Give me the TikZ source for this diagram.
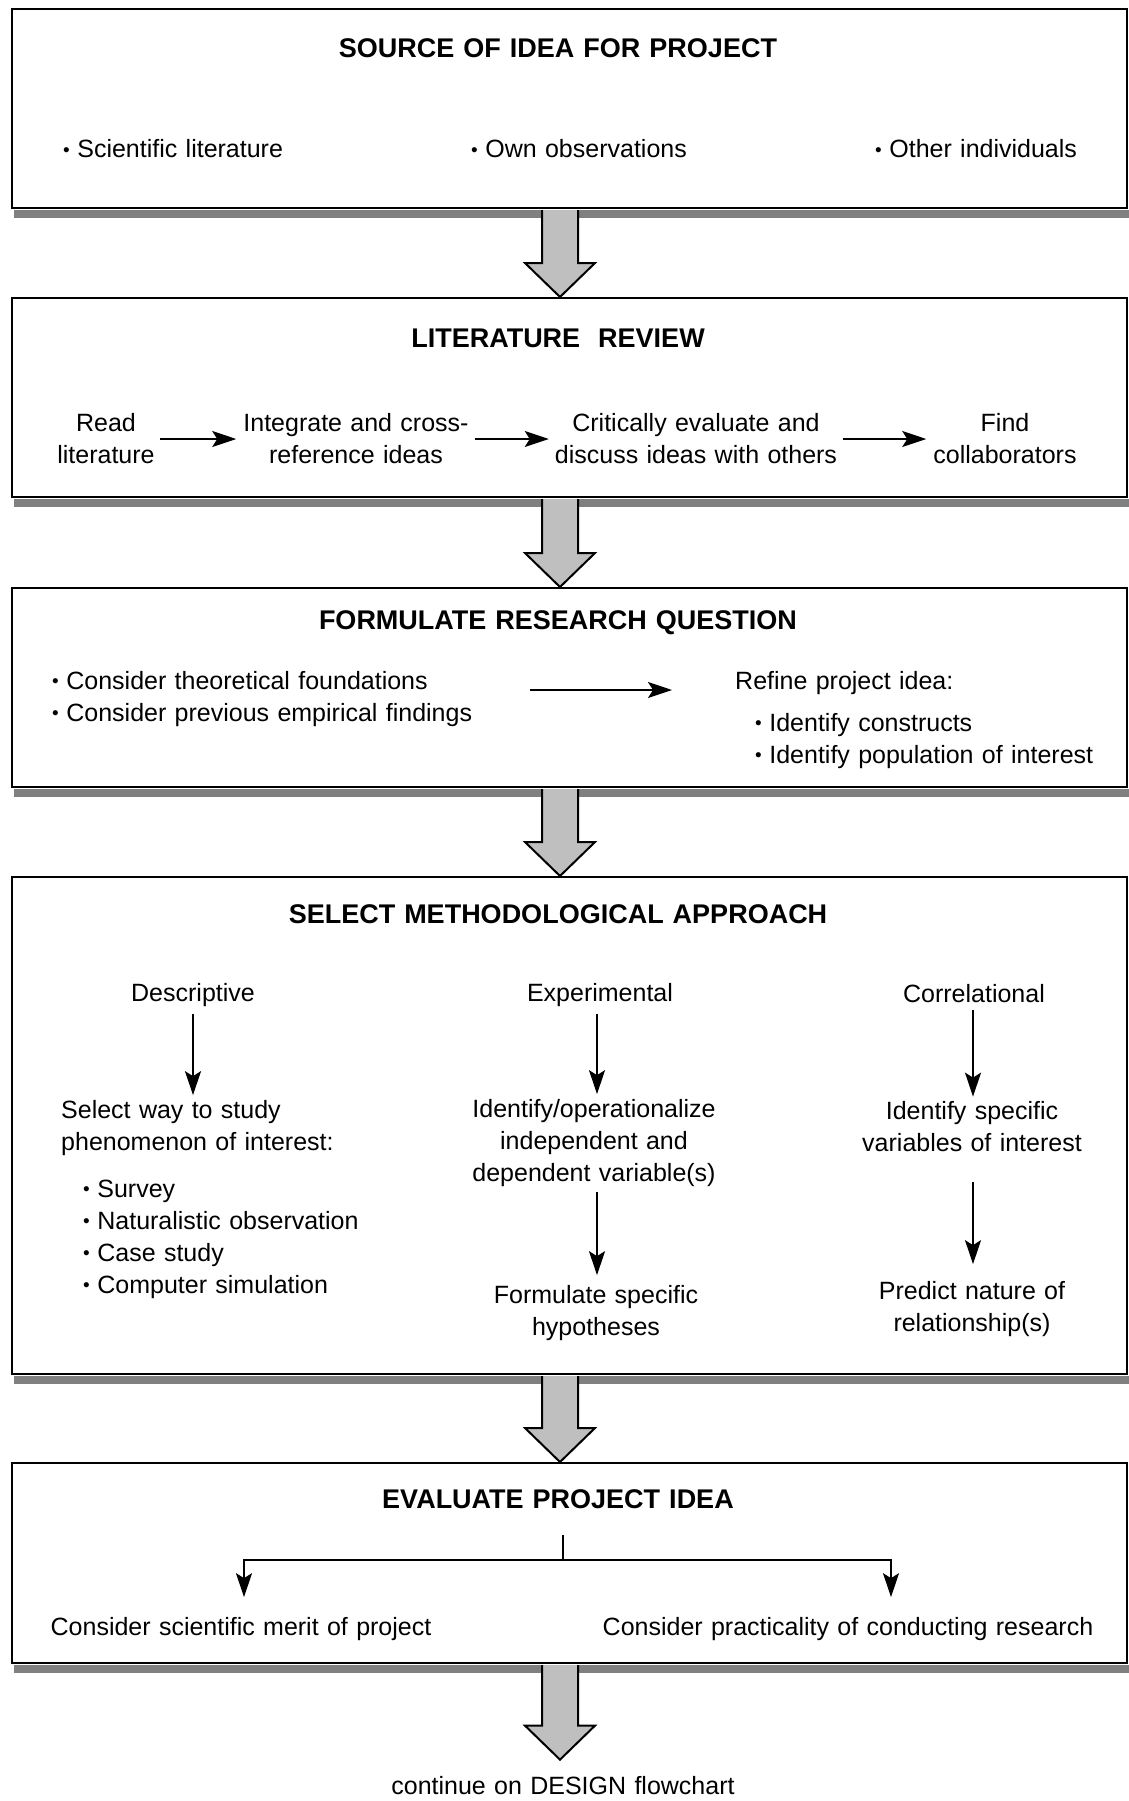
\documentclass[tikz,border=0pt]{standalone}
\usepackage{fontspec}
\setmainfont{Liberation Sans}[WordSpace=1.2]
\usetikzlibrary{calc,arrows.meta}
\newcommand\mybul{{\fontsize{19}{19}\selectfont\raisebox{0.1em}{•}}\hspace{0.3em}}
\newcommand\barrow[2]{%
  \draw[blockarrow] let \p1=(#1), \p2=(#2) in
   (\x1-18pt,\y1-1pt) -- (\x1-18pt,\y2+34pt) -- (\x1-35pt,\y2+34pt) -- (\x2,\y2)
   -- (\x1+35pt,\y2+34pt) -- (\x1+18pt,\y2+34pt) -- (\x1+18pt,\y1-1pt);}
\begin{document}
\begin{tikzpicture}[x=1pt,y=-1pt,
  box/.style={draw, line width=2pt, anchor=north west, minimum width=1115pt, inner sep=0pt},
  txt/.style={inner sep=0pt, align=center, font=\fontsize{25}{32}\selectfont},
  ltxt/.style={txt, align=left, anchor=west},
  ttl/.style={inner sep=0pt, font=\bfseries\fontsize{27}{32}\selectfont},
  conn/.style={line width=1.7pt, -{Stealth[length=24pt,width=16pt,inset=5pt]}},
  plain/.style={line width=1.7pt},
  shade/.style={fill=black!50},
  blockarrow/.style={draw, line width=2pt, fill=black!25, line join=miter}
]
\useasboundingbox (0,0) rectangle (1128,1801);
\fill[white] (0,0) rectangle (1128,1801);
\coordinate (ax) at (560,0);

% boxes
\node[box, minimum height=199pt] (b1) at (11,8) {};
\node[box, minimum height=199pt] (b2) at (11,297) {};
\node[box, minimum height=199pt] (b3) at (11,587) {};
\node[box, minimum height=497pt] (b4) at (11,876) {};
\node[box, minimum height=200pt] (b5) at (11,1462) {};

% shadows
\foreach \b in {b1,b2,b3,b4,b5}{
  \fill[shade] ($(\b.south west)+(3,1)$) rectangle ($(\b.south east)+(2,9)$);
}

% box 1
\node[ttl] (t1) at (558,48) {SOURCE OF IDEA FOR PROJECT};
\node[ltxt] (s1) at (63,149) {\mybul Scientific literature};
\node[ltxt] (s2) at (471,149) {\mybul Own observations};
\node[ltxt] (s3) at (875,149) {\mybul Other individuals};

% box 2
\node[ttl] (t2) at (558,338) {LITERATURE~~REVIEW};
\node[txt] (r1) at (106,439) {Read\\literature};
\node[txt] (r2) at (356,439) {Integrate and cross-\\reference ideas};
\node[txt] (r3) at (696,439) {Critically evaluate and\\discuss ideas with others};
\node[txt] (r4) at (1005,439) {Find\\collaborators};
\draw[conn, shorten <=5pt, shorten >=7pt] (r1) -- (r2);
\draw[conn, shorten <=6pt, shorten >=6pt] (r2) -- (r3);
\draw[conn, shorten <=6pt, shorten >=7pt] (r3) -- (r4);

% box 3
\node[ttl] (t3) at (558,623) {FORMULATE RESEARCH QUESTION};
\node[ltxt] (q1) at (52,699) {\mybul Consider theoretical foundations\\\mybul Consider previous empirical findings};
\node[ltxt] (q2) at (735,683) {Refine project idea:};
\node[ltxt] (q3) at (755,741) {\mybul Identify constructs\\\mybul Identify population of interest};
\coordinate (fa) at (0,690);
\draw[conn, shorten <=58pt, shorten >=63pt] (q1.east |- fa) -- (q2.west |- fa);

% box 4
\node[ttl] (t4) at (558,914) {SELECT METHODOLOGICAL APPROACH};
\node[txt] (d1) at (193,995) {Descriptive};
\node[ltxt] (d2) at (61,1128) {Select way to study\\phenomenon of interest:};
\node[ltxt] (d3) at (83,1239) {\mybul Survey\\\mybul Naturalistic observation\\\mybul Case study\\\mybul Computer simulation};
\node[txt] (e1) at (600,995) {Experimental};
\node[txt] (e2) at (594,1143) {Identify/operationalize\\independent and\\dependent variable(s)};
\node[txt] (e3) at (596,1313) {Formulate specific\\hypotheses};
\node[txt] (c1) at (974,994) {Correlational};
\node[txt] (c2) at (972,1127) {Identify specific\\variables of interest};
\node[txt] (c3) at (972,1309) {Predict nature of\\relationship(s)};
\draw[conn, shorten <=7pt, shorten >=5pt] (d1.south) -- (d1.south |- d2.north);
\draw[conn, shorten <=7pt, shorten >=5pt] ([xshift=-3pt]e1.south) -- ([xshift=-3pt]e1.south |- e2.north);
\draw[conn, shorten <=5pt, shorten >=10pt] ([xshift=3pt]e2.south) -- ([xshift=3pt]e2.south |- e3.north);
\draw[conn, shorten <=7pt, shorten >=5pt] ([xshift=-1pt]c1.south) -- ([xshift=-1pt]c1.south |- c2.north);
\draw[conn, shorten <=30pt, shorten >=17pt] ([xshift=1pt]c2.south) -- ([xshift=1pt]c2.south |- c3.north);

% box 5
\node[ttl] (t5) at (558,1499) {EVALUATE PROJECT IDEA};
\node[txt] (m1) at (241,1629) {Consider scientific merit of project};
\node[txt] (m2) at (848,1629) {Consider practicality of conducting research};
\coordinate (split) at (563,1560);
\draw[plain] (split |- t5.south) ++(0,26) -- (split);
\draw[conn, shorten >=20pt] (split) -| ([xshift=3pt]m1.north);
\draw[conn, shorten >=20pt] (split) -| ([xshift=43pt]m2.north);

% after
\node[txt] (cont) at (563,1786) {continue on DESIGN flowchart};
\coordinate (tip5) at ($(cont.north -| ax)+(0,-17)$);

% block arrows
\barrow{b1.south -| ax}{b2.north -| ax}
\barrow{b2.south -| ax}{b3.north -| ax}
\barrow{b3.south -| ax}{b4.north -| ax}
\barrow{b4.south -| ax}{b5.north -| ax}
\barrow{b5.south -| ax}{tip5}
\end{tikzpicture}
\end{document}
